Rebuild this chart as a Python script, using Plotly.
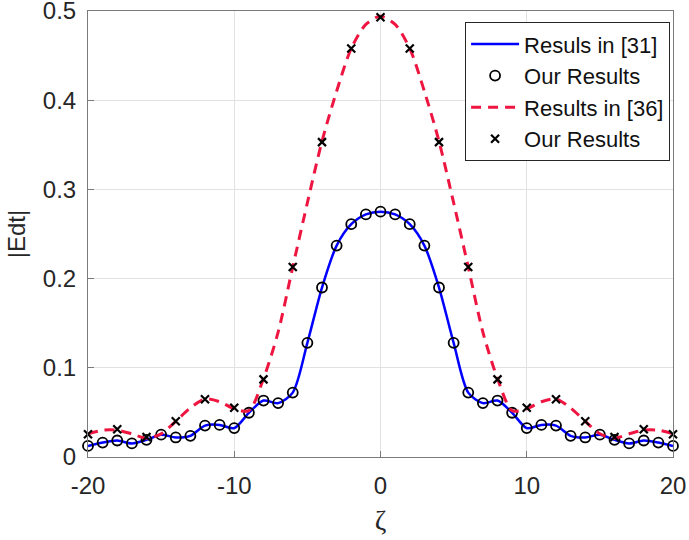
import plotly.graph_objects as go

# Blue curve / circle markers (every integer zeta)
zeta_blue = list(range(-20, 21))
edt_blue = [0.0124, 0.0162, 0.0185, 0.0152, 0.0192, 0.0250, 0.0219, 0.0237, 0.0352, 0.0360,
            0.0324, 0.0496, 0.0633, 0.0604, 0.0722, 0.128, 0.190, 0.237, 0.261, 0.272,
            0.275,
            0.272, 0.261, 0.237, 0.190, 0.128, 0.0722, 0.0604, 0.0633, 0.0496, 0.0324,
            0.0360, 0.0352, 0.0237, 0.0219, 0.0250, 0.0192, 0.0152, 0.0185, 0.0162, 0.0124]

# Red dashed curve (read every integer zeta)
zeta_red_line = list(range(-20, 21))
edt_red_line = [0.026, 0.030, 0.030, 0.026, 0.021, 0.026, 0.040, 0.055, 0.065, 0.062,
                0.054, 0.052, 0.088, 0.140, 0.213, 0.285, 0.354, 0.410, 0.458, 0.485,
                0.494,
                0.485, 0.458, 0.410, 0.354, 0.285, 0.213, 0.140, 0.088, 0.052, 0.054,
                0.062, 0.065, 0.055, 0.040, 0.026, 0.021, 0.026, 0.030, 0.030, 0.026]

# Cross markers (every 2 units)
zeta_x = list(range(-20, 21, 2))
edt_x = [0.0256, 0.0311, 0.0224, 0.040, 0.0647, 0.0552, 0.087, 0.213, 0.353, 0.458,
         0.493,
         0.458, 0.353, 0.213, 0.087, 0.0552, 0.0647, 0.040, 0.0224, 0.0311, 0.0256]

x_ticks = [-20, -10, 0, 10, 20]
x_tick_labels = ["-20", "-10", "0", "10", "20"]
y_ticks = [0, 0.1, 0.2, 0.3, 0.4, 0.5]
y_tick_labels = ["0", "0.1", "0.2", "0.3", "0.4", "0.5"]

fig = go.Figure()
fig.add_trace(go.Scatter(x=zeta_blue, y=edt_blue, mode="lines", name="Resuls in [31]",
                         line=dict(color="#0000ff", width=2.5, shape="spline", smoothing=0.8),
                         cliponaxis=False))
fig.add_trace(go.Scatter(x=zeta_blue, y=edt_blue, mode="markers", name="Our Results",
                         marker=dict(symbol="circle-open", size=10, color="black",
                                     line=dict(color="black", width=1.8)),
                         cliponaxis=False))
fig.add_trace(go.Scatter(x=zeta_red_line, y=edt_red_line, mode="lines", name="Results in [36]",
                         line=dict(color="#ee1640", width=3, dash="10px,7px", shape="spline", smoothing=0.8),
                         cliponaxis=False))
fig.add_trace(go.Scatter(x=zeta_x, y=edt_x, mode="markers", name="Our Results",
                         marker=dict(symbol="x-thin-open", size=8, color="black",
                                     line=dict(color="black", width=2.2)),
                         cliponaxis=False))

axis_common = dict(showline=True, linecolor="#7a7a7a", linewidth=1, mirror=True,
                   ticks="inside", ticklen=6, tickcolor="#7a7a7a",
                   showgrid=True, gridcolor="#e2e2e2", gridwidth=1, zeroline=False,
                   automargin=False, ticklabeloverflow="allow",
                   tickfont=dict(family="Liberation Sans, Arial", size=24, color="#262626"))

fig.update_xaxes(range=[-20, 20], tickvals=x_ticks, ticktext=x_tick_labels, ticklabelstandoff=7,
                 title=dict(text="ζ", font=dict(family="Liberation Serif, Times New Roman", size=28, color="#262626"),
                            standoff=12),
                 **axis_common)
fig.update_yaxes(range=[0, 0.5], tickvals=y_ticks, ticktext=y_tick_labels, ticklabelstandoff=6,
                 title=dict(text="|Edt|", font=dict(family="Liberation Sans, Arial", size=24, color="#262626"),
                            standoff=10),
                 **axis_common)

fig.update_layout(
    width=689, height=540,
    margin=dict(l=88, r=16, t=11, b=83),
    paper_bgcolor="white", plot_bgcolor="white",
    showlegend=True,
    legend=dict(x=0.995, y=0.975, xanchor="right", yanchor="top",
                bgcolor="white", bordercolor="#262626", borderwidth=1,
                font=dict(family="Liberation Sans, Arial", size=22, color="#111111"),
                tracegroupgap=0, itemwidth=48),
)

# remove the default page margin so the figure fills the 689x540 window exactly
fig.write_html("out.html", config={"displayModeBar": False},
               post_script="document.body.style.margin='0';")
